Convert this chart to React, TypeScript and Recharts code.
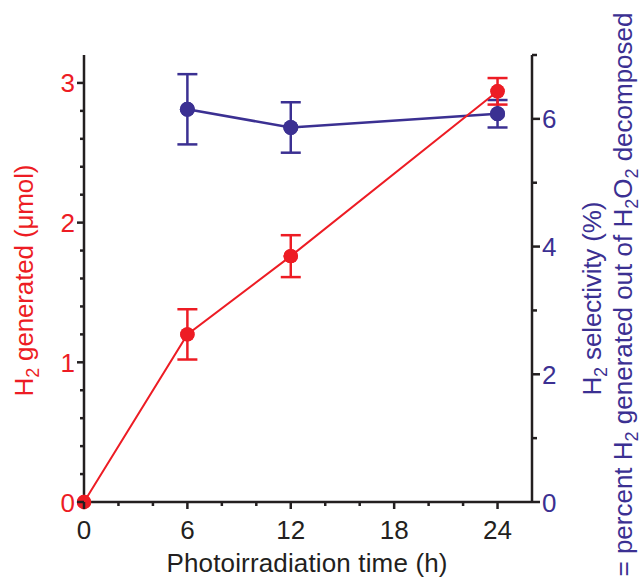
import { LineChart, Line, XAxis, YAxis, ErrorBar, Label, ReferenceDot } from "recharts";

const timeH = [0, 6, 12, 24];
const h2Umol = [0, 1.2, 1.76, 2.94];
const h2Err = [0, 0.18, 0.15, 0.095];

const selTimeH = [6, 12, 24];
const selPct = [6.15, 5.865, 6.08];
const selErr = [0.55, 0.395, 0.215];

const xTicks = [0, 2, 4, 6, 8, 10, 12, 14, 16, 18, 20, 22, 24];
const leftTicks = [0, 0.2, 0.4, 0.6, 0.8, 1, 1.2, 1.4, 1.6, 1.8, 2, 2.2, 2.4, 2.6, 2.8, 3];
const rightTicks = [0, 1, 2, 3, 4, 5, 6, 7];

// titles: "_x" marks a subscript piece
const leftTitle = ["H", "_2", " generated (μmol)"];
const rightTitle1 = ["H", "_2", " selectivity (%)"];
const rightTitle2 = ["= percent H", "_2", " generated out of H", "_2", "O", "_2", " decomposed"];
const xTitle = ["Photoirradiation time (h)"];

const RED = "#ed1c24";
const BLUE = "#3b3092";
const INK = "#231f20";
const FONT = "'Liberation Sans', Arial, sans-serif";

const h2Data = timeH.map((t, i) => ({ time: t, value: h2Umol[i], err: h2Err[i] }));
const selData = selTimeH.map((t, i) => ({ time: t, value: selPct[i], err: selErr[i] }));

const isWhole = (v: number, step: number) => Math.abs(v / step - Math.round(v / step)) < 1e-6;

function XTick({ x, y, payload }: any) {
  const major = isWhole(payload.value, 6);
  return (
    <g>
      <line x1={x} y1={y} x2={x} y2={y + (major ? 7 : 4)} stroke={INK} strokeWidth={2.5} />
      {major && (
        <text x={x} y={y + 37} textAnchor="middle" fontSize={26} fill={INK} fontFamily={FONT}>
          {payload.value}
        </text>
      )}
    </g>
  );
}

function LeftTick({ x, y, payload }: any) {
  const major = isWhole(payload.value, 1);
  return (
    <g>
      <line x1={x} y1={y} x2={x - (major ? 7 : 4)} y2={y} stroke={INK} strokeWidth={2.5} />
      {major && (
        <text x={x - 9} y={y + 9.5} textAnchor="end" fontSize={26} fill={RED} fontFamily={FONT}>
          {payload.value}
        </text>
      )}
    </g>
  );
}

function RightTick({ x, y, payload }: any) {
  const major = isWhole(payload.value, 2);
  return (
    <g>
      <line x1={x} y1={y} x2={x + (major ? 8 : 5)} y2={y} stroke={INK} strokeWidth={2.5} />
      {major && (
        <text x={x + 10} y={y + 9.5} textAnchor="start" fontSize={26} fill={BLUE} fontFamily={FONT}>
          {payload.value}
        </text>
      )}
    </g>
  );
}

function Pieces({ parts }: { parts: string[] }) {
  let prevSub = false;
  return (
    <>
      {parts.map((p, i) => {
        const isSub = p.startsWith("_");
        const dy = isSub ? 6 : prevSub ? -6 : 0;
        prevSub = isSub;
        return (
          <tspan key={i} dy={dy} fontSize={isSub ? 18 : 26}>
            {isSub ? p.slice(1) : p}
          </tspan>
        );
      })}
    </>
  );
}

function Title({ parts, x, y, len, color, rotate }: any) {
  return (
    <text
      x={x}
      y={y}
      transform={rotate ? `rotate(-90, ${x}, ${y})` : undefined}
      textAnchor="middle"
      fontSize={26}
      fill={color}
      fontFamily={FONT}
      textLength={len}
      lengthAdjust="spacing"
    >
      <Pieces parts={parts} />
    </text>
  );
}

function LeftTitle({ viewBox }: any) {
  return <Title parts={leftTitle} x={33} y={viewBox.y + viewBox.height / 2 + 2} len={232} color={RED} rotate />;
}

function RightTitle({ viewBox }: any) {
  const mid = viewBox.y + viewBox.height / 2;
  return (
    <g>
      <Title parts={rightTitle1} x={601} y={mid + 20} len={194} color={BLUE} rotate />
      <Title parts={rightTitle2} x={632} y={mid + 16} len={564} color={BLUE} rotate />
    </g>
  );
}

function XTitle({ viewBox }: any) {
  return <Title parts={xTitle} x={viewBox.x + viewBox.width / 2 - 1} y={viewBox.y + 70} len={281} color={INK} />;
}

// marker drawn again from the dot's label box so points on the axes are not cut
const markerLabel = (color: string, r: number) => (props: any) => {
  const vb = props.viewBox;
  if (!vb) return null;
  return <circle cx={vb.x + vb.width / 2} cy={vb.y + vb.height / 2} r={r} fill={color} stroke="none" />;
};

export default function App() {
  return (
    <div style={{ position: "absolute", left: 0, top: 0, background: "#fff" }}>
      <LineChart width={639} height={577} margin={{ top: 55, right: 0, bottom: 0, left: 0 }}>
        <XAxis
          dataKey="time"
          type="number"
          domain={[0, 26]}
          ticks={xTicks}
          interval={0}
          height={75}
          tickSize={0}
          tickMargin={0}
          tickLine={false}
          tick={<XTick />}
          axisLine={{ stroke: INK, strokeWidth: 2.5 }}
        >
          <Label content={<XTitle />} />
        </XAxis>
        <YAxis
          yAxisId="h2"
          orientation="left"
          type="number"
          domain={[0, 3.2]}
          ticks={leftTicks}
          interval={0}
          width={84}
          tickSize={0}
          tickMargin={0}
          tickLine={false}
          tick={<LeftTick />}
          axisLine={{ stroke: INK, strokeWidth: 2.5 }}
        >
          <Label content={<LeftTitle />} />
        </YAxis>
        <YAxis
          yAxisId="sel"
          orientation="right"
          type="number"
          domain={[0, 7]}
          ticks={rightTicks}
          interval={0}
          width={107}
          tickSize={0}
          tickMargin={0}
          tickLine={false}
          tick={<RightTick />}
          axisLine={{ stroke: INK, strokeWidth: 2.5 }}
        >
          <Label content={<RightTitle />} />
        </YAxis>
        <Line
          yAxisId="sel"
          data={selData}
          dataKey="value"
          stroke={BLUE}
          strokeWidth={2.5}
          dot={false}
          activeDot={false}
          isAnimationActive={false}
        >
          <ErrorBar dataKey="err" width={10} stroke={BLUE} strokeWidth={2.5} direction="y" isAnimationActive={false} />
        </Line>
        <Line
          yAxisId="h2"
          data={h2Data}
          dataKey="value"
          stroke={RED}
          strokeWidth={2}
          dot={false}
          activeDot={false}
          isAnimationActive={false}
        >
          <ErrorBar dataKey="err" width={10} stroke={RED} strokeWidth={2.5} direction="y" isAnimationActive={false} />
        </Line>
        {selData.map((d) => (
          <ReferenceDot
            key={`s${d.time}`}
            yAxisId="sel"
            x={d.time}
            y={d.value}
            r={7.5}
            fill={BLUE}
            stroke="none"
            ifOverflow="visible"
            label={{ content: markerLabel(BLUE, 7.5) }}
          />
        ))}
        {h2Data.map((d) => (
          <ReferenceDot
            key={`h${d.time}`}
            yAxisId="h2"
            x={d.time}
            y={d.value}
            r={7.2}
            fill={RED}
            stroke="none"
            ifOverflow="visible"
            label={{ content: markerLabel(RED, 7.2) }}
          />
        ))}
      </LineChart>
    </div>
  );
}
